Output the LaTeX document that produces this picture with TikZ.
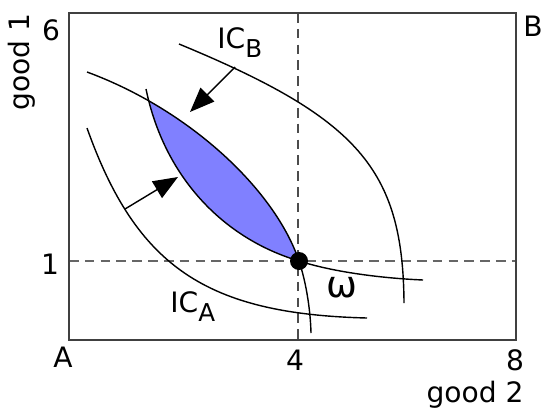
\documentclass[tikz,border=0pt]{standalone}
\usepackage{fontspec}
\setmainfont{DejaVu Sans}
\usetikzlibrary{arrows.meta}

\definecolor{lensblue}{RGB}{128,128,255}
\newcommand{\icsub}[1]{\raisebox{-5.5pt}{\fontsize{14}{14}\selectfont #1}}
% the two curves through the endowment
\newcommand{\curveQ}{(146,89) .. controls (164,176) and (222,238) .. (299,261) .. controls (332,271.5) and (378,278) .. (423,280)}
\newcommand{\curveP}{(87,72) .. controls (190,110) and (275,190) .. (299,261) .. controls (307,285) and (310.5,313) .. (311,333)}

\tikzset{
	boxline/.style={line width=1.3pt, draw=black!75},
	guide/.style={line width=1.2pt, draw=black!70, dash pattern=on 5.5pt off 3.5pt},
	icurve/.style={line width=0.8pt},
	pusharrow/.style={-{Triangle[length=14pt,width=11pt]}, line width=0.8pt},
	lbl/.style={font=\fontsize{16}{16}\selectfont, inner sep=0pt},
}

\begin{document}
\begin{tikzpicture}[x=0.02cm, y=-0.02cm]
	\useasboundingbox (0,0) rectangle (546,409);
	\coordinate (bl) at (69,340);
	\coordinate (tr) at (516,13);
	\coordinate (w) at (298,261);
	% guide lines through the endowment
	\draw[guide] (w |- tr) -- (w |- bl);
	\draw[guide, draw=black!60, line width=1.5pt] (w -| bl) -- (w -| tr);
	% lens of mutually better allocations
	\begin{scope}
		\clip \curveQ -- (546,280) -- (546,0) -- (146,0) -- cycle;
		\clip \curveP -- (311,409) -- (0,409) -- (0,72) -- cycle;
		\fill[lensblue] (0,0) rectangle (546,409);
	\end{scope}
	\draw[icurve] \curveQ;
	\draw[icurve] \curveP;
	% IC_B and IC_A
	\draw[icurve] (179,44) .. controls (358,118) and (403,169) .. (404,303);
	\draw[icurve] (87,128) .. controls (136.5,267) and (206.5,314) .. (367,318);
	% arrows
	\coordinate (arrBs) at (235,67);
	\coordinate (arrBe) at (190,112);
	\coordinate (arrAs) at (125,209);
	\coordinate (arrAe) at (178,177);
	\draw[pusharrow] (arrBs) -- (arrBe);
	\draw[pusharrow] (arrAs) -- (arrAe);
	\node[circle, fill, inner sep=0pt, minimum size=0.36cm] (endow) at (299,261) {};
	% box
	\draw[boxline] (bl) rectangle (tr);
	% labels
	\node[lbl, anchor=base west] (icB) at (217,48) {IC\icsub{B}};
	\node[lbl, anchor=base west] (icA) at (170,312) {IC\icsub{A}};
	\node[font=\fontsize{21}{21}\selectfont, inner sep=0pt] (omega) at (342,288) {ω};
	\node[lbl] (six) at (51,30) {6};
	\node[lbl] (one) at (50,264) {1};
	\node[lbl] (orgA) at (63,357) {A};
	\node[lbl] (orgB) at (533,26) {B};
	\node[lbl] (four) at (295,360) {4};
	\node[lbl] (eight) at (515,360) {8};
	\node[lbl] (xlab) at (475,395) {good 2};
	\node[lbl, rotate=90] (ylab) at (22,62) {good 1};
\end{tikzpicture}
\end{document}
